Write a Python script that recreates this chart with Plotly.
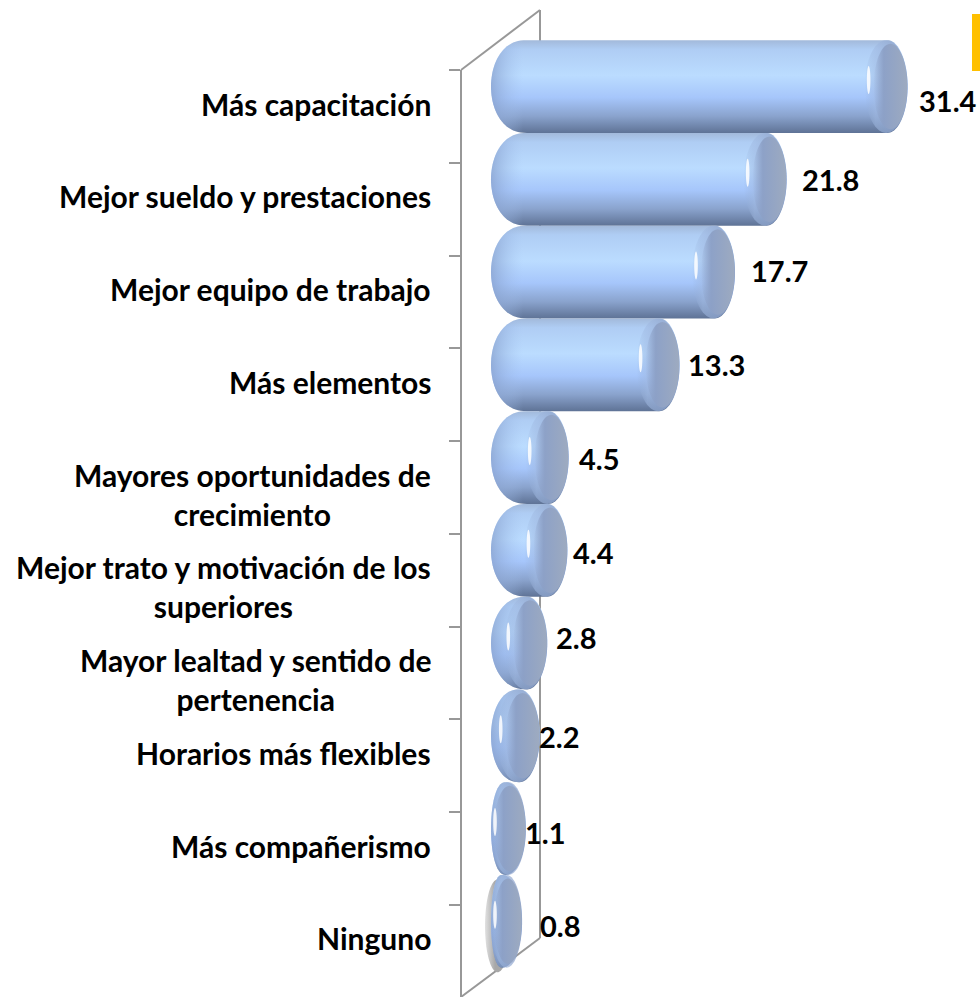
import numpy as np
import plotly.graph_objects as go

# Data
categories = [
    "Más capacitación",
    "Mejor sueldo y prestaciones",
    "Mejor equipo de trabajo",
    "Más elementos",
    "Mayores oportunidades de<br>crecimiento",
    "Mejor trato y motivación de los<br>superiores",
    "Mayor lealtad y sentido de<br>pertenencia",
    "Horarios más flexibles",
    "Más compañerismo",
    "Ninguno",
]
values = [31.4, 21.8, 17.7, 13.3, 4.5, 4.4, 2.8, 2.2, 1.1, 0.8]

# Hand placed value labels: pixel shifts from the end of each bar
label_dx = [29, 33, 34, 26, 28, 24, 27, 17, 17, 36]
label_dy = [14, 0, -2, 0, 1, 2, -6, 1, 4, 4]

# Page geometry, in pixels
W, H = 980, 997
PLOT_LEFT = 461
BAND = 92.75
FIRST_CY = 86.5
ZERO_X = 492
BAR_LEFT = 491
PX_PER_UNIT = 12.6
GREY = "#989898"
FONT = dict(family="Lato, sans-serif", size=30, color="black", weight="bold")
VALUE_FONT = dict(family="Lato, sans-serif", size=29, color="black", weight="bold")

BODY = [[0, "#a2b9da"], [0.1, "#afcdf4"], [0.38, "#bbdcff"], [0.62, "#a6c6fb"],
        [0.82, "#8aa3cd"], [1, "#5f7396"]]
RIM = [[0, "rgba(150,175,215,0)"], [0.25, "rgba(160,185,225,0.55)"], [1, "rgba(135,155,195,0.85)"]]
FACE = [[0, "rgba(140,160,198,0)"], [0.3, "rgba(140,160,198,0.95)"], [1, "#9eabc0"]]
EDGE = [[0, "rgba(135,160,205,0.75)"], [1, "rgba(165,195,240,0)"]]
SHADOW = [[0, "rgba(170,170,170,0.35)"], [0.4, "#a8a8a8"], [1, "#a8a8a8"]]


def to_x(px):
    return (px - ZERO_X) / PX_PER_UNIT


def to_paper_x(px):
    return (px - PLOT_LEFT) / (W - PLOT_LEFT)


def to_paper_y(py):
    return (H - py) / H


def ellipse(cx, cy, a, b):
    # closed outline round a centre; cx in pixels, cy in band units
    t = np.linspace(0, 2 * np.pi, 97)
    return to_x(cx + a * np.cos(t)), cy + b * np.sin(t)


def span_ellipse(left, right, cy, b):
    return ellipse((left + right) / 2, cy, (right - left) / 2, b)


def cylinder(cx, cy, a_right=20.0):
    # rounded left end plus elliptical right end
    a_left = min(36.0, cx - BAR_LEFT)
    t = np.linspace(-np.pi / 2, np.pi / 2, 49)
    right_x = cx + a_right * np.cos(t)
    left_x = BAR_LEFT + a_left - a_left * np.abs(np.cos(t)) ** 0.85
    edge_y = cy + 0.5 * np.sin(t)
    return to_x(np.r_[right_x, left_x[::-1]]), np.r_[edge_y, edge_y[::-1]]


def blob(xs, ys, **fill):
    return go.Scatter(x=xs, y=ys, mode="none", fill="toself", hoverinfo="skip", **fill)


fig = go.Figure()

positions = list(range(len(values)))

fig.add_trace(go.Bar(x=values, y=positions, orientation="h", width=0.2,
                     marker=dict(color="#a6c6fb", line=dict(width=0)),
                     hovertemplate="%{x}<extra></extra>"))

# soft shadow behind the last bar
last_right = ZERO_X + PX_PER_UNIT * values[-1] + 20
sx, sy = span_ellipse(BAR_LEFT - 6, last_right - 12, positions[-1] + 0.05, 0.5)
fig.add_trace(blob(sx, sy, fillgradient=dict(type="horizontal", colorscale=SHADOW,
                                             start=to_x(BAR_LEFT - 6), stop=to_x(last_right - 12))))

for i, v in enumerate(values):
    cx = ZERO_X + PX_PER_UNIT * v
    right = cx + 20
    xs, ys = cylinder(cx, i)
    fig.add_trace(blob(xs, ys, fillgradient=dict(type="vertical", colorscale=BODY,
                                                 start=i - 0.5, stop=i + 0.5)))
    # darker left end
    fig.add_trace(blob(xs, ys, fillgradient=dict(type="horizontal", colorscale=EDGE,
                                                 start=to_x(BAR_LEFT), stop=to_x(BAR_LEFT + 32))))
    # end cap: soft rim and darker face
    rim_left = max(cx - 23, BAR_LEFT)
    xs, ys = span_ellipse(rim_left, right, i, 0.5)
    fig.add_trace(blob(xs, ys, fillgradient=dict(type="horizontal", colorscale=RIM,
                                                 start=to_x(rim_left), stop=to_x(right))))
    face_left = max(cx - 14, BAR_LEFT + 3)
    xs, ys = span_ellipse(face_left, right - 0.5, i, 0.46)
    fig.add_trace(blob(xs, ys, fillgradient=dict(type="horizontal", colorscale=FACE,
                                                 start=to_x(face_left), stop=to_x(right))))
    # highlight
    xs, ys = ellipse(max(cx - 19, BAR_LEFT + 4), i - 0.07, 1.8, 0.15)
    fig.add_trace(blob(xs, ys, fillcolor="rgba(255,255,255,0.85)"))

annotations = []
for i, (name, v) in enumerate(zip(categories, values)):
    annotations.append(dict(x=to_paper_x(433), y=i, xref="paper", yref="y", text=name,
                            showarrow=False, xanchor="right", yanchor="top", align="center",
                            yshift=3, font=FONT))
    annotations.append(dict(x=v, y=i, xref="x", yref="y", text=f"{v:.1f}", showarrow=False,
                            xanchor="left", yanchor="middle", xshift=label_dx[i],
                            yshift=-label_dy[i], font=VALUE_FONT))


def wall(x0, y0, x1, y1, width=2):
    return dict(type="line", xref="paper", yref="paper", layer="below",
                x0=to_paper_x(x0), y0=to_paper_y(y0), x1=to_paper_x(x1), y1=to_paper_y(y1),
                line=dict(color=GREY, width=width))


shapes = [
    wall(461, 70, 461, 997),
    wall(461, 70, 540, 10),
    wall(540, 10, 540, 938),
    wall(461, 997, 540, 938),
    dict(type="rect", xref="paper", yref="paper", line=dict(width=0), fillcolor="#ffc000",
         x0=to_paper_x(972), x1=to_paper_x(980), y0=to_paper_y(71), y1=to_paper_y(14)),
]

fig.update_layout(
    width=W,
    height=H,
    margin=dict(l=PLOT_LEFT, r=0, t=0, b=0),
    paper_bgcolor="white",
    plot_bgcolor="white",
    showlegend=False,
    annotations=annotations,
    shapes=shapes,
    xaxis=dict(visible=False, range=[to_x(PLOT_LEFT), to_x(W)]),
    yaxis=dict(
        range=[(H - FIRST_CY) / BAND, -FIRST_CY / BAND],
        tickvals=[k + (70 - FIRST_CY) / BAND for k in positions],
        ticks="outside",
        ticklen=11,
        tickwidth=2,
        tickcolor=GREY,
        showticklabels=False,
        showgrid=False,
        zeroline=False,
        showline=False,
    ),
)

fig.write_html("out.html", config=dict(displayModeBar=False),
               post_script="document.body.style.margin='0';")
